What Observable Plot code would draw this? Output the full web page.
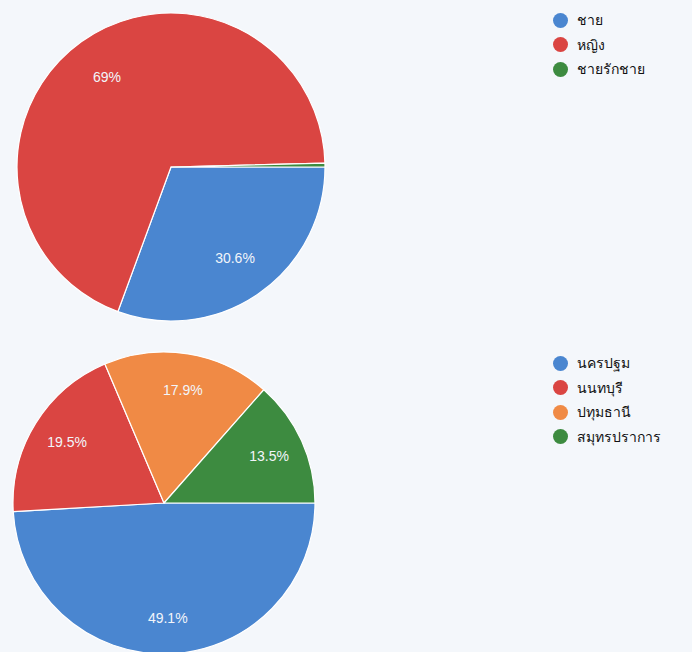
<!DOCTYPE html>
<html>
<head>
<meta charset="utf-8">
<script src="https://cdn.jsdelivr.net/npm/d3@7"></script>
<script src="https://cdn.jsdelivr.net/npm/@observablehq/plot@0.6"></script>
<style>
  html, body { margin: 0; padding: 0; background: #f4f7fb; }
  #wrap { position: relative; width: 692px; height: 652px; overflow: hidden; font-family: "Liberation Sans", Arial, "Noto Sans", sans-serif; }
  .chart { position: absolute; left: 0; }
  .legend { position: absolute; left: 553px; font-size: 14px; color: #111; }
  .legend .item { display: flex; align-items: center; height: 24.5px; white-space: nowrap; }
  .legend .sw { width: 15px; height: 15px; border-radius: 50%; margin-right: 9px; flex: none; }
</style>
</head>
<body>
<div id="wrap"></div>
<script>
// ---- data ----
const genderLabels = ["ชาย", "หญิง", "ชายรักชาย"];
const genderValues = [30.6, 69, 0.4];
const genderColors = ["#4a86d0", "#da4542", "#3d8b40"];

const provinceLabels = ["นครปฐม", "นนทบุรี", "ปทุมธานี", "สมุทรปราการ"];
const provinceValues = [49.1, 19.5, 17.9, 13.5];
const provinceColors = ["#4a86d0", "#da4542", "#f08a45", "#3d8b40"];

const wrap = document.getElementById("wrap");

function pieChart({labels, values, colors, top, height, xRange, yRange, labelFactor}) {
  const data = labels.map((label, i) => ({label, value: values[i]}));
  const arcs = d3.pie().value(d => d.value).sort(null)
    .startAngle(Math.PI / 2).endAngle(Math.PI / 2 + 2 * Math.PI)(data);
  const labelData = arcs.filter(a => a.data.value >= 5).map(a => {
    const m = (a.startAngle + a.endAngle) / 2;
    return {x: Math.sin(m) * labelFactor, y: -Math.cos(m) * labelFactor, text: `${a.data.value}%`};
  });
  const fallback = d3.scaleOrdinal(labels, colors);
  const pieMark = (index, scales) => {
    const {x, y} = scales;
    const color = scales.color || fallback;
    const cx = x(0), cy = y(0), r = Math.abs(x(1) - x(0));
    const arc = d3.arc().innerRadius(0).outerRadius(r);
    const g = d3.create("svg:g").attr("transform", `translate(${cx},${cy})`);
    g.selectAll("path").data(arcs).join("path")
      .attr("d", arc)
      .attr("fill", d => color(d.data.label))
      .attr("stroke", "#ffffff")
      .attr("stroke-width", 1.2)
      .attr("stroke-linejoin", "round");
    return g.node();
  };
  const plot = Plot.plot({
    width: 692,
    height,
    margin: 0,
    style: {background: "transparent", overflow: "visible"},
    x: {domain: [-1, 1], range: xRange, axis: null},
    y: {domain: [-1, 1], range: yRange, axis: null},
    color: {type: "ordinal", domain: labels, range: colors},
    marks: [
      pieMark,
      Plot.text(labelData, {x: "x", y: "y", text: "text", fill: "#f2f5fa", fontSize: 14,
        fontFamily: "Liberation Sans, Arial, sans-serif"})
    ]
  });
  const holder = document.createElement("div");
  holder.className = "chart";
  holder.style.top = top + "px";
  holder.appendChild(plot);
  wrap.appendChild(holder);
}

function legend({labels, colors, top}) {
  const div = document.createElement("div");
  div.className = "legend";
  div.style.top = top + "px";
  labels.forEach((l, i) => {
    const item = document.createElement("div");
    item.className = "item";
    const sw = document.createElement("span");
    sw.className = "sw";
    sw.style.background = colors[i];
    const t = document.createElement("span");
    t.textContent = l;
    item.appendChild(sw);
    item.appendChild(t);
    div.appendChild(item);
  });
  wrap.appendChild(div);
}

pieChart({labels: genderLabels, values: genderValues, colors: genderColors,
  top: 0, height: 330, xRange: [17, 325], yRange: [13, 321], labelFactor: 0.72});
pieChart({labels: provinceLabels, values: provinceValues, colors: provinceColors,
  top: 330, height: 322, xRange: [13, 315], yRange: [22, 324], labelFactor: 0.76});

legend({labels: genderLabels, colors: genderColors, top: 8});
legend({labels: provinceLabels, colors: provinceColors, top: 351});
</script>
</body>
</html>
